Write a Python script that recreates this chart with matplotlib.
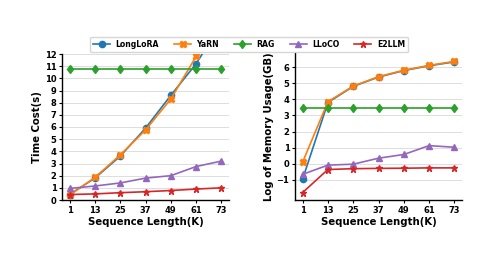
import numpy as np
import matplotlib
matplotlib.use('Agg')
import matplotlib.pyplot as plt

seq_len = [1, 13, 25, 37, 49, 61, 73]

# time cost (s)
t_longlora = [0.45, 1.8, 3.6, 5.9, 8.6, 11.2, 14.5]
t_yarn = [0.4, 1.85, 3.7, 5.75, 8.3, 11.8, 15.5]
t_rag = [10.8, 10.8, 10.8, 10.8, 10.8, 10.8, 10.8]
t_lloco = [0.95, 1.15, 1.4, 1.8, 2.0, 2.75, 3.2]
t_e2llm = [0.45, 0.5, 0.6, 0.68, 0.78, 0.9, 1.0]

# log of memory usage (GB)
m_longlora = [-0.95, 3.8, 4.8, 5.38, 5.78, 6.08, 6.32]
m_yarn = [0.1, 3.85, 4.82, 5.4, 5.8, 6.1, 6.35]
m_rag = [3.47, 3.47, 3.47, 3.47, 3.47, 3.47, 3.47]
m_lloco = [-0.65, -0.08, -0.02, 0.35, 0.58, 1.13, 1.03]
m_e2llm = [-1.78, -0.35, -0.3, -0.28, -0.27, -0.25, -0.25]

names = ['LongLoRA', 'YaRN', 'RAG', 'LLoCO', 'E2LLM']
markers = ['o', 'X', 'd', '^', '*']
colors = ['tab:blue', 'tab:orange', 'tab:green', 'tab:purple', 'tab:red']

plt.rcParams['font.weight'] = 'bold'
plt.rcParams['axes.labelweight'] = 'bold'

fig = plt.figure(figsize=(4.98, 2.59), dpi=100)
ax1 = fig.add_axes([62/498, 59/259, 167/498, 146/259])
ax2 = fig.add_axes([295/498, 59/259, 167/498, 147/259])

for ax, series in [(ax1, [t_longlora, t_yarn, t_rag, t_lloco, t_e2llm]),
                   (ax2, [m_longlora, m_yarn, m_rag, m_lloco, m_e2llm])]:
    for s, n, m, c in zip(series, names, markers, colors):
        ax.plot(seq_len, s, marker=m, color=c, label=n, lw=1.2, ms=4.5)
    ax.set_xticks(seq_len)
    ax.set_xlabel('Sequence Length(K)', fontsize=7.3, labelpad=1.5)
    ax.grid(axis='y', color='#dddddd', lw=0.7)
    ax.set_axisbelow(True)
    for sp in ['top', 'right']:
        ax.spines[sp].set_visible(False)
    for sp in ['left', 'bottom']:
        ax.spines[sp].set_linewidth(1.0)
    ax.tick_params(labelsize=6, length=2.5, width=0.8, pad=1.5)

ax1.set_ylim(0, 12)
ax1.set_yticks(range(0, 13))
ax1.set_ylabel('Time Cost(s)', fontsize=7.3, labelpad=2)

ax2.set_ylim(-2.24, 6.87)
ax2.set_yticks(range(-1, 7))
ax2.set_ylabel('Log of Memory Usage(GB)', fontsize=7.3, labelpad=2)

handles, labels = ax1.get_legend_handles_labels()
fig.legend(handles, labels, ncol=5, loc='center', bbox_to_anchor=(249/498, 1 - 44.5/259),
           fontsize=5.6, frameon=True, handlelength=2.2, columnspacing=1.9,
           borderpad=0.4, handletextpad=0.7)

fig.savefig('out.png', dpi=100)
